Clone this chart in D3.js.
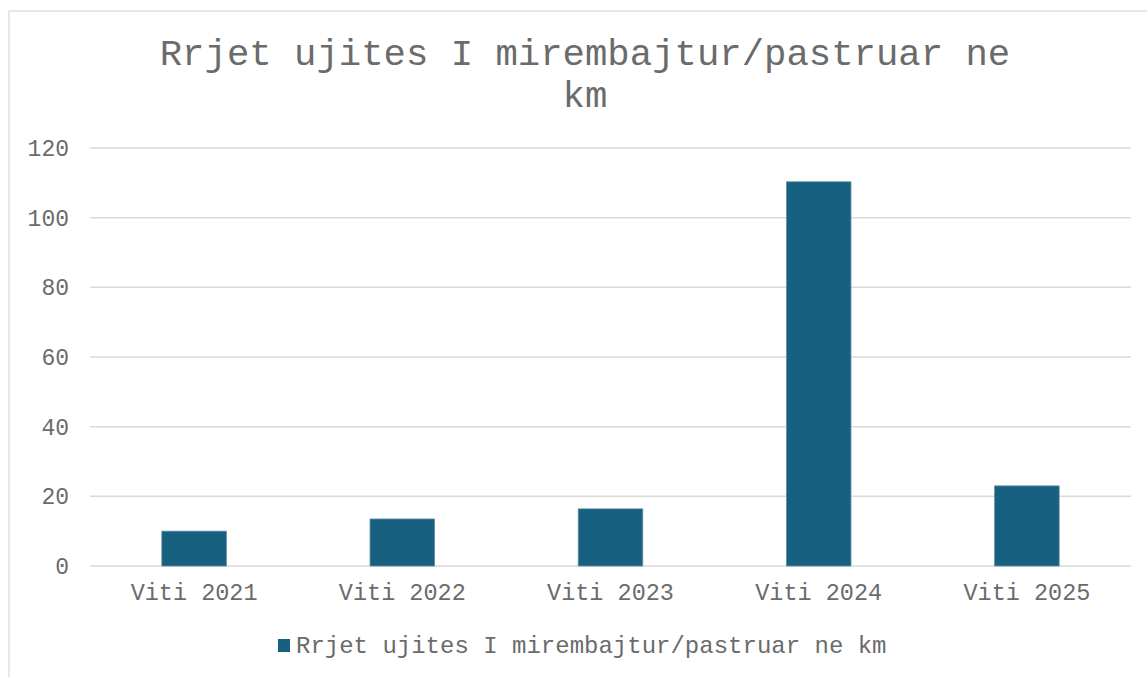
<!DOCTYPE html>
<html>
<head>
<meta charset="utf-8">
<script src="https://cdn.jsdelivr.net/npm/d3@7"></script>
<style>
  body { margin: 0; background: #fff; }
  text { font-family: "Liberation Mono", "Courier New", monospace; fill: #6b6b6b; }
</style>
</head>
<body>
<div id="chart"></div>
<script>
var categories = ['Viti 2021', 'Viti 2022', 'Viti 2023', 'Viti 2024', 'Viti 2025']
var values = [10, 13.5, 16.4, 110.3, 23]
var yTicks = [0, 20, 40, 60, 80, 100, 120]
var seriesName = 'Rrjet ujites I mirembajtur/pastruar ne km'
var titleLines = ['Rrjet ujites I mirembajtur/pastruar ne', 'km']

var width = 1147, height = 677
var margin = {left: 90, right: 16, top: 148, bottom: 111}
var barColor = '#17607f'

var svg = d3.select('#chart').append('svg')
	.attr('width', width).attr('height', height)

// chart area border
svg.append('rect')
	.attr('x', 9).attr('y', 11)
	.attr('width', width + 20).attr('height', height + 20)
	.attr('fill', 'none')
	.attr('stroke', '#d9d9d9')
	.attr('stroke-width', 1.2)

var x = d3.scaleBand()
	.domain(categories)
	.range([margin.left, width - margin.right])
	.paddingInner(0.69)
	.paddingOuter(0.345)

var y = d3.scaleLinear()
	.domain([0, 120])
	.range([height - margin.bottom, margin.top])

// gridlines
svg.append('g')
	.selectAll('line').data(yTicks)
	.enter().append('line')
		.attr('x1', margin.left)
		.attr('x2', width - margin.right)
		.attr('y1', d => y(d))
		.attr('y2', d => y(d))
		.attr('stroke', '#d9d9d9')
		.attr('stroke-width', 1.5)

// y labels
svg.append('g')
	.selectAll('text').data(yTicks)
	.enter().append('text')
		.attr('x', 69)
		.attr('y', d => y(d) + 8)
		.attr('text-anchor', 'end')
		.style('font-size', '23px')
		.text(d => d)

// bars
svg.append('g')
	.selectAll('rect').data(values)
	.enter().append('rect')
		.attr('x', (d, i) => x(categories[i]))
		.attr('y', d => y(d))
		.attr('width', x.bandwidth())
		.attr('height', d => y(0) - y(d))
		.attr('fill', barColor)
		.attr('stroke', '#5f8ea5')
		.attr('stroke-width', 0.8)

// x labels
svg.append('g')
	.selectAll('text').data(categories)
	.enter().append('text')
		.attr('x', d => x(d) + x.bandwidth() / 2)
		.attr('y', 600)
		.attr('text-anchor', 'middle')
		.style('font-size', '23.5px')
		.text(d => d)

// title
svg.append('g')
	.selectAll('text').data(titleLines)
	.enter().append('text')
		.attr('x', 585)
		.attr('y', (d, i) => 65 + i * 42)
		.attr('text-anchor', 'middle')
		.style('font-size', '37.3px')
		.text(d => d)

// legend
var legend = svg.append('g')
legend.append('rect')
	.attr('x', 278).attr('y', 639)
	.attr('width', 12).attr('height', 13)
	.attr('fill', barColor)
legend.append('text')
	.attr('x', 296).attr('y', 653)
	.style('font-size', '24px')
	.text(seriesName)
</script>
</body>
</html>
